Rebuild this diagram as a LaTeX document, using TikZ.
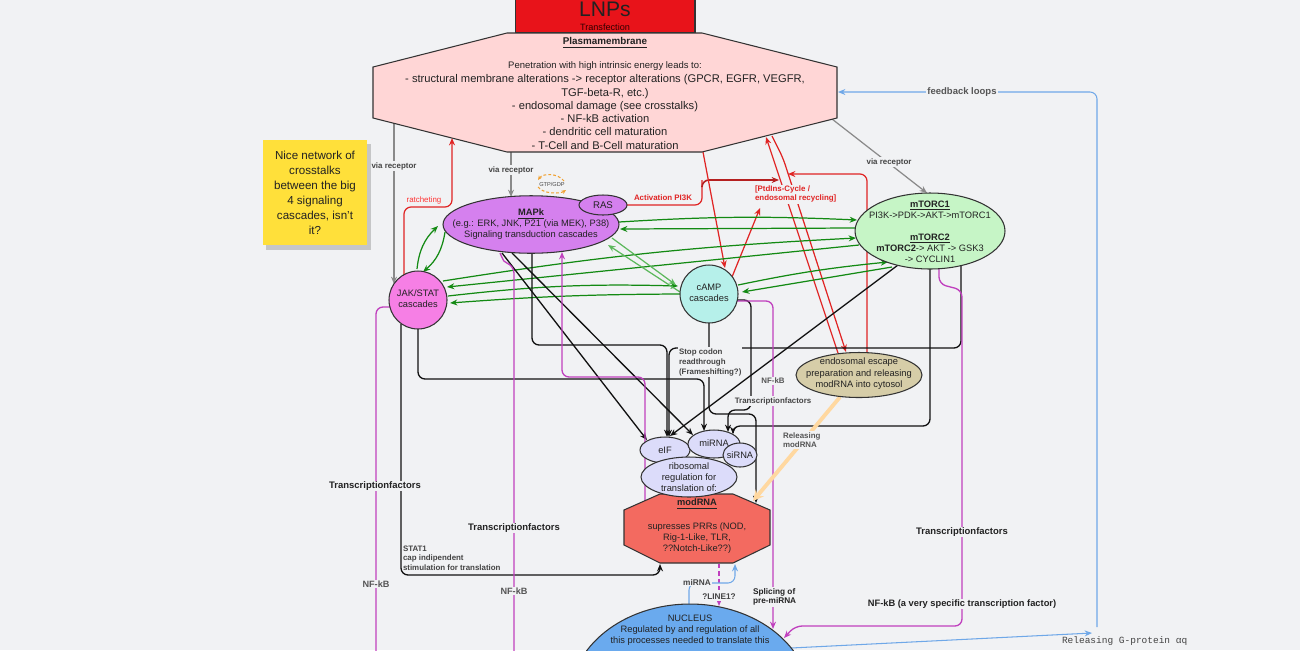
\documentclass[tikz,border=0pt]{standalone}
\usepackage{fontspec}
\setmainfont{Liberation Sans}
\setmonofont{Liberation Mono}
\usetikzlibrary{arrows.meta,shapes.geometric}
\definecolor{bgc}{HTML}{F1F2F4}
\definecolor{edgec}{HTML}{333333}
\definecolor{lnpc}{HTML}{E8131A}
\definecolor{pmc}{HTML}{FFD6D6}
\definecolor{stkc}{HTML}{FFE03A}
\definecolor{mapkc}{HTML}{D580EE}
\definecolor{jakc}{HTML}{F67FE5}
\definecolor{campc}{HTML}{B6F0EA}
\definecolor{mtorc}{HTML}{C6F5C6}
\definecolor{endoc}{HTML}{D6CDA8}
\definecolor{lavc}{HTML}{DCDCFA}
\definecolor{modc}{HTML}{F36A60}
\definecolor{nucc}{HTML}{6AAAEE}
\definecolor{blkc}{HTML}{111111}
\definecolor{magc}{HTML}{C040BE}
\definecolor{grnc}{HTML}{138A13}
\definecolor{lgrc}{HTML}{5CB85C}
\definecolor{redc}{HTML}{E02424}
\definecolor{dredc}{HTML}{B52020}
\definecolor{gryc}{HTML}{8A8A8A}
\definecolor{bluc}{HTML}{6FA8E8}
\definecolor{orgc}{HTML}{FFD8A0}
\definecolor{orgd}{HTML}{F0A030}
\definecolor{txtc}{HTML}{222222}
\definecolor{labc}{HTML}{444444}
\definecolor{nfc}{HTML}{555555}
\newcommand\fsz[2]{\fontsize{#1}{#2}\selectfont}
\begin{document}
\begin{tikzpicture}[x=0.02cm,y=-0.02cm,
  every node/.style={inner sep=0pt,outer sep=0pt},
  shp/.style={draw=edgec,line width=0.6pt},
  tip/.style={-{Stealth[length=4.2pt,width=3.4pt]}},
  blk/.style={draw=blkc,line width=0.75pt,rounded corners=4pt},
  mag/.style={draw=magc,line width=0.75pt,rounded corners=4pt},
  grn/.style={draw=grnc,line width=0.7pt},
  lgr/.style={draw=lgrc,line width=0.7pt},
  rdl/.style={draw=redc,line width=0.7pt,rounded corners=4pt},
  gyl/.style={draw=gryc,line width=0.7pt},
  bll/.style={draw=bluc,line width=0.6pt,rounded corners=4pt},
  txt/.style={font=\fsz{5.3}{6.26},align=center,text=txtc},
  lab/.style={font=\fsz{4.5}{5.5}\bfseries,text=labc,fill=bgc,inner sep=0.6pt},
  big/.style={font=\fsz{5.4}{6.4}\bfseries,text=txtc,fill=bgc,inner sep=0.6pt},
  nfk/.style={font=\fsz{5.2}{6.2}\bfseries,text=nfc,fill=bgc,inner sep=0.6pt},
  rlab/.style={font=\fsz{4.5}{5.4}\bfseries,text=redc,fill=bgc,inner sep=0.6pt}
]
\useasboundingbox (0,0) rectangle (1300,650);
\fill[bgc] (0,0) rectangle (1300,650);
\clip (0,0) rectangle (1300,650);

% ---------------- connectors ----------------
% gray via receptor
\draw[gyl,tip] (394,118) -- (394,284);
\draw[gyl,tip] (511,152) -- (511,197);
\draw[gyl,tip] (832,119) -- (927,193);

% red
\draw[rdl,tip] (404,275) -- (404,207) -- (452,207) -- (452,138);
\draw[rdl] (627,205) -- (702,205) -- (702,180);
\draw[draw=dredc,line width=0.9pt,rounded corners=4pt,tip] (702,186) -- (702,180) -- (779,180);
\draw[rdl,tip] (703,152) -- (725,268);
\draw[rdl,tip] (732,277) -- (760,208);
\draw[rdl,tip] (838,353) -- (766,137);
\draw[rdl,tip] (772,136) -- (783,158) -- (846,352);
\draw[rdl,tip] (867,353) -- (867,174) -- (788,174);

% green crosstalks
\draw[grn,tip] (619,222) to[bend left=3] (857,220);
\draw[grn,tip] (855,228) -- (620,229);
\draw[grn,tip] (443,281) to[bend left=3] (856,238);
\draw[grn,tip] (859,245) -- (447,287);
\draw[grn,tip] (448,296) to[bend left=4] (678,286);
\draw[grn,tip] (681,294) to[bend right=2] (450,303);
\draw[lgr,tip] (612,238) -- (676,285);
\draw[lgr,tip] (680,292) -- (608,245);
\draw[grn,tip] (738,285) to[bend left=3] (888,262);
\draw[grn,tip] (892,267) -- (742,292);
\draw[grn,tip] (417,269) to[bend left=20] (438,226);
\draw[grn,tip] (445,232) to[bend left=20] (423,272);

% black
\draw[blk,tip] (502,253) -- (647,440);
\draw[blk,tip] (512,253) -- (693,435);
\draw[blk,tip] (532,253) -- (532,345) -- (667,345) -- (667,437);
\draw[blk,tip] (961,265) -- (961,348) -- (669,348) -- (669,437);
\draw[blk,tip] (898,265) -- (670,436);
\draw[blk,tip] (418,329) -- (418,379) -- (704,379) -- (704,431);
\draw[blk,tip] (401,324) -- (401,575) -- (660,575) -- (660,564);
\draw[blk,tip] (930,269) -- (930,426) -- (733,426) -- (733,434);
\draw[blk,tip] (709,323) -- (709,414) -- (756,414) -- (756,503);
\draw[blk,tip] (737,300) -- (751,300) -- (751,410) -- (728,410) -- (728,432);

% magenta
\draw[mag] (390,307) -- (376,307) -- (376,660);
\draw[mag] (500,253) .. controls (504,262) .. (514,266) -- (514,660);
\draw[mag,tip] (645,501) -- (645,377) -- (562,377) -- (562,252);
\draw[mag,tip] (737,301) -- (773,301) -- (773,629);
\draw[mag,tip] (939,269) -- (939,284) -- (962,290) -- (962,626) -- (795,626) -- (784,638);
\draw[mag,dash pattern=on 2.4pt off 1.8pt,tip] (719,564) -- (719,606);

% blue
\draw[bll,tip] (689,606) -- (689,583) -- (735,583) -- (735,564);
\draw[bll,tip] (791,648) -- (1092,633);
\draw[bll,tip] (1097,627) -- (1097,92) -- (838,92);

% orange
\draw[draw=orgc,line width=2.2pt,-{Stealth[length=6pt,width=6pt]}] (840,397) -- (753,501);

% GTP/GDP loop
\draw[draw=orgd,line width=0.6pt,dash pattern=on 1.6pt off 1.2pt,-{Stealth[length=2.5pt,width=2.2pt]}] (564,181) .. controls (558,173) and (543,173) .. (538,180);
\draw[draw=orgd,line width=0.6pt,dash pattern=on 1.6pt off 1.2pt,-{Stealth[length=2.5pt,width=2.2pt]}] (538,187) .. controls (543,194) and (560,194) .. (566,190);

% ---------------- shapes ----------------
\node[shp,fill=lnpc,minimum width=3.6cm,minimum height=0.9cm] (lnp) at (605,10.5) {};
\draw[shp,fill=pmc] (507,33) -- (702,33) -- (837,67) -- (837,118) -- (702,152) -- (507,152) -- (373,118) -- (373,67) -- cycle;

\fill[black,opacity=0.18] (266,144) rectangle (371,250);
\node[fill=stkc,minimum width=2.08cm,minimum height=2.1cm] (stk) at (315,192.5) {};

\node[shp,ellipse,fill=mapkc,minimum width=3.52cm,minimum height=1.15cm] (mapk) at (531,224.5) {};
\node[shp,ellipse,fill=mapkc,minimum width=0.96cm,minimum height=0.4cm] (ras) at (603,205) {};
\node[shp,circle,fill=jakc,minimum size=1.16cm] (jak) at (418,300) {};
\node[shp,circle,fill=campc,minimum size=1.16cm] (camp) at (709,294) {};
\node[shp,ellipse,fill=mtorc,minimum width=3cm,minimum height=1.52cm] (mtor) at (930,231) {};
\node[shp,ellipse,fill=endoc,minimum width=2.52cm,minimum height=0.9cm] (endo) at (859,375) {};

\draw[shp,fill=modc] (660,494) -- (733,494) -- (770,510) -- (770,545) -- (733,563) -- (660,563) -- (624,545) -- (624,510) -- cycle;
\node[shp,ellipse,fill=lavc,minimum width=1cm,minimum height=0.52cm] (eif) at (665,450) {};
\node[shp,ellipse,fill=lavc,minimum width=1.04cm,minimum height=0.56cm] (mirna) at (714,444) {};
\node[shp,ellipse,fill=lavc,minimum width=0.68cm,minimum height=0.48cm] (sirna) at (740,455) {};
\node[shp,ellipse,fill=lavc,minimum width=1.92cm,minimum height=0.8cm] (ribo) at (689,477) {};

\node[shp,ellipse,fill=nucc,minimum width=4.8cm,minimum height=3.8cm] (nuc) at (690,699) {};

% ---------------- texts in shapes ----------------
\node[font=\fsz{12}{14},text=txtc] (lnpT) at (605,9) {LNPs};
\node[font=\fsz{5.2}{6},text={black!80!red}] (lnpT2) at (605,27) {Transfection};
\node[font=\fsz{5.6}{6.5}\bfseries,text=txtc] (pmT1) at (605,43) {\underline{Plasmamembrane}};
\node[font=\fsz{5.4}{6.3},text=txtc] (pmT2) at (605,66) {Penetration with high intrinsic energy leads to:};
\node[font=\fsz{6.35}{7.55},text=txtc,align=center] (pmT3) at (605,112) {- structural membrane alterations -> receptor alterations (GPCR, EGFR, VEGFR,\\TGF-beta-R, etc.)\\- endosomal damage (see crosstalks)\\- NF-kB activation\\- dendritic cell maturation\\- T-Cell and B-Cell maturation};
\node[font=\fsz{6.6}{8.5},text=txtc,align=center] (stkT) at (315,192.5) {Nice network of\\crosstalks\\between the big\\4 signaling\\cascades, isn't\\it?};
\node[txt] (mapkT) at (531,224) {\underline{\textbf{MAPk}}\\(e.g.: ERK, JNK, P21 (via MEK), P38)\\Signaling transduction cascades};
\node[txt,font=\fsz{5.5}{6.5}] (rasT) at (603,205) {RAS};
\node[txt] (jakT) at (418,298.5) {JAK/STAT\\cascades};
\node[txt] (campT) at (709,292.5) {cAMP\\cascades};
\node[txt] (mtorT) at (930,231.5) {\underline{\textbf{mTORC1}}\\PI3K->PDK->AKT->mTORC1\\[6.26pt]\underline{\textbf{mTORC2}}\\\textbf{mTORC2}-> AKT -> GSK3\\-> CYCLIN1};
\node[txt,font=\fsz{5.3}{6.5}] (endoT) at (859,374) {endosomal escape\\preparation and releasing\\modRNA into cytosol};
\node[txt] (eifT) at (665,450) {eIF};
\node[txt] (mirnaT) at (714,443) {miRNA};
\node[txt] (sirnaT) at (740,455) {siRNA};
\node[txt] (riboT) at (689,477) {ribosomal\\regulation for\\translation of:};
\node[txt] (modT1) at (697,504) {\underline{\textbf{modRNA}}};
\node[txt] (modT2) at (697,538) {supresses PRRs (NOD,\\Rig-1-Like, TLR,\\??Notch-Like??)};
\node[txt,font=\fsz{5.3}{6.4}] (nucT) at (690,630) {NUCLEUS\\Regulated by and regulation of all\\this processes needed to translate this};

% ---------------- labels ----------------
\node[lab] (l1) at (394,166) {via receptor};
\node[lab] (l2) at (511,170) {via receptor};
\node[lab] (l3) at (889,162) {via receptor};
\node[font=\fsz{4.5}{5.4},text={red!80!white},fill=bgc,inner sep=0.6pt] (l4) at (424,200) {ratcheting};
\node[rlab] (l5) at (663,198) {Activation PI3K};
\node[rlab,anchor=west,align=left] (l6) at (754,194) {[PtdIns-Cycle /\\endosomal recycling]};
\node[font=\fsz{3.2}{4},text=labc] (l7) at (552,184) {GTP/GDP};
\node[lab,anchor=west,align=left,font=\fsz{4.5}{5.7}\bfseries] (l8) at (678,362) {Stop codon\\readthrough\\(Frameshifting?)};
\node[lab,text=nfc] (l9) at (773,381) {NF-kB};
\node[lab] (l10) at (773,401) {Transcriptionfactors};
\node[lab,text=nfc,anchor=west,align=left] (l11) at (782,440) {Releasing\\modRNA};
\node[big] (l12) at (375,486) {Transcriptionfactors};
\node[nfk] (l13) at (376,584) {NF-kB};
\node[big] (l14) at (514,528) {Transcriptionfactors};
\node[nfk] (l15) at (514,591) {NF-kB};
\node[big] (l16) at (962,532) {Transcriptionfactors};
\node[big,font=\fsz{5.3}{6.3}\bfseries] (l17) at (962,604) {NF-kB (a very specific transcription factor)};
\node[font=\fsz{4.5}{5.5}\bfseries,text=labc,anchor=west,align=left] (l18) at (403,558) {STAT1\\cap indipendent\\stimulation for translation};
\node[lab,font=\fsz{4.7}{5.5}\bfseries,text=txtc,anchor=west,align=left] (l19) at (752,597) {Splicing of\\pre-miRNA};
\node[lab,font=\fsz{4.7}{5.5}\bfseries] (l20) at (719,597) {?LINE1?};
\node[lab,font=\fsz{4.7}{5.5}\bfseries] (l21) at (697,582) {miRNA};
\node[nfk,font=\fsz{5.4}{6.4}\bfseries] (l22) at (962,92) {feedback loops};
\node[font=\fsz{5.4}{6.4}\ttfamily,text=labc,anchor=west] (l23) at (1062,641) {Releasing G-protein αq};
\end{tikzpicture}
\end{document}
